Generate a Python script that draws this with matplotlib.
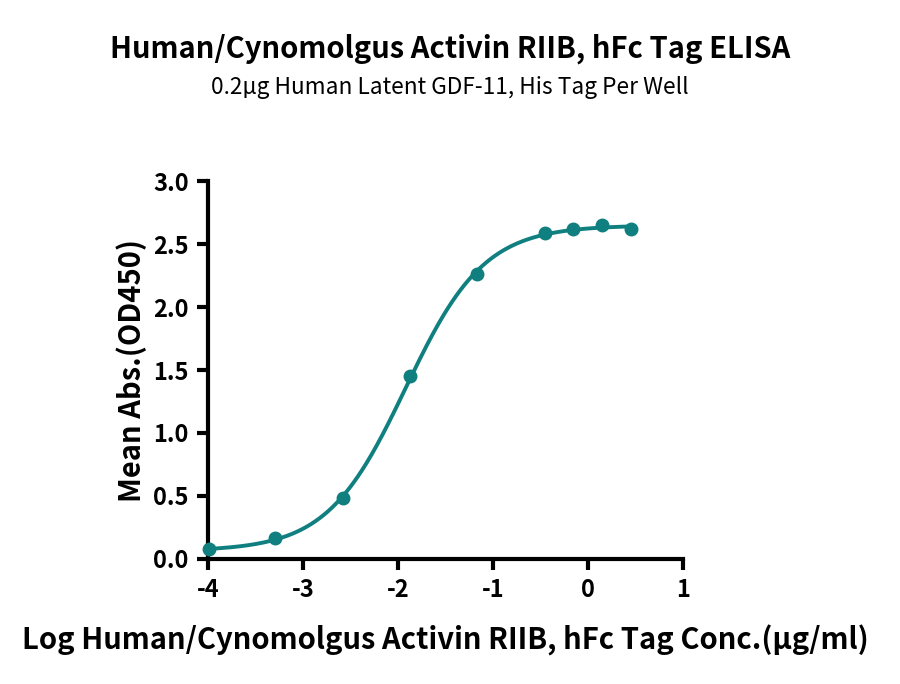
import numpy as np
import matplotlib
matplotlib.use("Agg")
import matplotlib.pyplot as plt

plt.rcParams['font.family'] = ['Noto Sans CJK SC', 'DejaVu Sans']

log_conc = [-3.99, -3.29, -2.58, -1.87, -1.17, -0.45, -0.155, 0.15, 0.45]
od450 = [0.075, 0.165, 0.483, 1.45, 2.265, 2.59, 2.617, 2.65, 2.62]
xticks = [-4, -3, -2, -1, 0, 1]
yticks = [0.0, 0.5, 1.0, 1.5, 2.0, 2.5, 3.0]

title = "Human/Cynomolgus Activin RIIB, hFc Tag ELISA"
subtitle = "0.2µg Human Latent GDF-11, His Tag Per Well"
xlabel = "Log Human/Cynomolgus Activin RIIB, hFc Tag Conc.(µg/ml)"
ylabel = "Mean Abs.(OD450)"

color = "#0f7f7f"

# 4PL fit via grid search + linear least squares
x = np.array(log_conc)
y = np.array(od450)
best = None
for c in np.linspace(-3, -1, 401):
    for h in np.linspace(0.5, 2.5, 201):
        s = 1.0 / (1.0 + 10 ** ((c - x) * h))
        A = np.vstack([1 - s, s]).T
        coef, res, _, _ = np.linalg.lstsq(A, y, rcond=None)
        r = np.sum((A @ coef - y) ** 2)
        if best is None or r < best[0]:
            best = (r, c, h, coef)
_, c, h, (bot, top) = best
xf = np.linspace(x.min(), x.max(), 400)
sf = 1.0 / (1.0 + 10 ** ((c - xf) * h))
yf = bot + (top - bot) * sf

fig = plt.figure(figsize=(9, 6.84), dpi=100)
ax = fig.add_axes([0.231, 0.183, 0.528, 0.552])
ax.plot(xf, yf, color=color, lw=2.8, zorder=2)
ax.plot(x, y, 'o', color=color, ms=9, zorder=3, clip_on=False)

ax.set_xlim(-4, 1)
ax.set_ylim(0, 3)
ax.set_xticks(xticks)
ax.set_yticks(yticks)
ax.set_xticklabels([f"{t:d}" for t in xticks])
ax.set_yticklabels([f"{t:.1f}" for t in yticks])
for sp in ['top', 'right']:
    ax.spines[sp].set_visible(False)
for sp in ['left', 'bottom']:
    ax.spines[sp].set_linewidth(3)
ax.tick_params(width=3, length=8, labelsize=17, pad=6)
for lab in ax.get_xticklabels() + ax.get_yticklabels():
    lab.set_fontweight('bold')

ax.set_xlabel(xlabel, fontsize=21, fontweight='bold', labelpad=16)
ax.set_ylabel(ylabel, fontsize=21, fontweight='bold', labelpad=4)

fig.text(0.5, 0.929, title, ha='center', va='center', fontsize=21, fontweight='bold')
fig.text(0.5, 0.872, subtitle, ha='center', va='center', fontsize=16.3, fontweight='light')

fig.savefig("out.png", dpi=100, facecolor='white')
